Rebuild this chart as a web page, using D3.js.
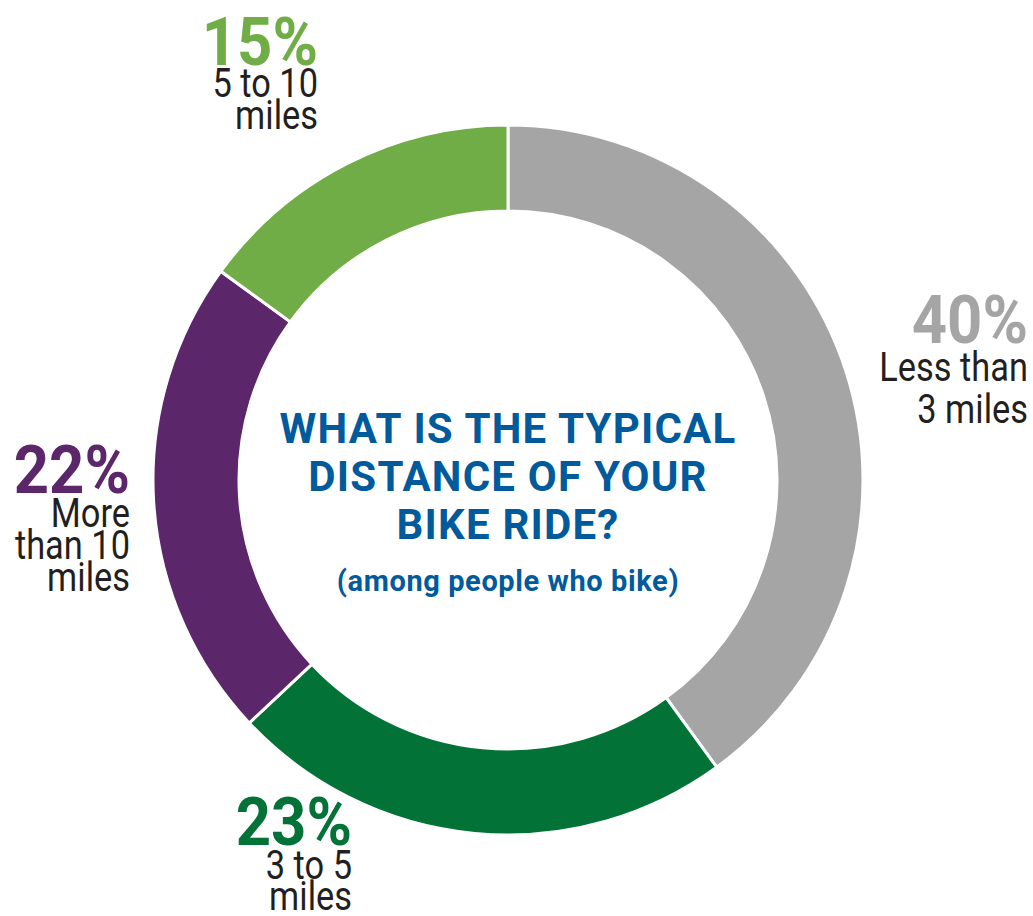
<!DOCTYPE html>
<html><head><meta charset="utf-8">
<script src="https://cdn.jsdelivr.net/npm/d3@7"></script>
<style>html,body{margin:0;padding:0;background:#fff;}svg{display:block;}</style>
</head><body>
<script>
const categories = ["Less than 3 miles", "3 to 5 miles", "More than 10 miles", "5 to 10 miles"];
const values = [40, 23, 22, 15];
const colors = ["#a5a5a5", "#037236", "#5c266a", "#71ad47"];
const labelLines = [["Less than", "3 miles"], ["3 to 5", "miles"], ["More", "than 10", "miles"], ["5 to 10", "miles"]];
const titleLines = ["WHAT IS THE TYPICAL", "DISTANCE OF YOUR", "BIKE RIDE?"];
const subtitle = "(among people who bike)";

const W = 1033, H = 916;
const cx = 508, cy = 480, R = 355, r = 269;
const svg = d3.select("body").append("svg").attr("width", W).attr("height", H);

const pie = d3.pie().sort(null).value(d => d);
const arc = d3.arc().innerRadius(r).outerRadius(R);
const g = svg.append("g").attr("transform", `translate(${cx},${cy})`);
g.selectAll("path").data(pie(values)).join("path")
  .attr("d", arc).attr("fill", (d, i) => colors[i])
  .attr("stroke", "#fff").attr("stroke-width", 3);

const place = [
  {x: 1028, py: 343, ly: 381, dy: 42},
  {x: 352, py: 845, ly: 879, dy: 31},
  {x: 130, py: 493, ly: 527, dy: 32},
  {x: 318, py: 65, ly: 97, dy: 32}
];
values.forEach((v, i) => {
  const p = place[i];
  svg.append("text")
    .attr("transform", `translate(${p.x},${p.py}) scale(0.92,1)`)
    .attr("text-anchor", "end")
    .attr("font-family", "Roboto").attr("font-weight", 700)
    .attr("font-size", 67)
    .attr("fill", colors[i]).text(v + "%");
  labelLines[i].forEach((t, j) => {
    svg.append("text")
      .attr("transform", `translate(${p.x},${p.ly + j * p.dy}) scale(0.86,1)`)
      .attr("text-anchor", "end")
      .attr("font-family", "Roboto").attr("font-weight", 400)
      .attr("font-size", 40)
      .attr("fill", "#231f20").text(t);
  });
});

const titleY = [443, 491, 539];
titleLines.forEach((t, i) => {
  svg.append("text").attr("x", cx).attr("y", titleY[i])
    .attr("text-anchor", "middle")
    .attr("font-family", "Roboto").attr("font-weight", 700)
    .attr("font-size", 42).attr("letter-spacing", 1.2)
    .attr("fill", "#005a9c").text(t);
});
svg.append("text").attr("x", cx).attr("y", 591)
  .attr("text-anchor", "middle")
  .attr("font-family", "Roboto").attr("font-weight", 700)
  .attr("font-size", 29).attr("letter-spacing", 0.6)
  .attr("fill", "#005a9c").text(subtitle);
</script>
</body></html>
